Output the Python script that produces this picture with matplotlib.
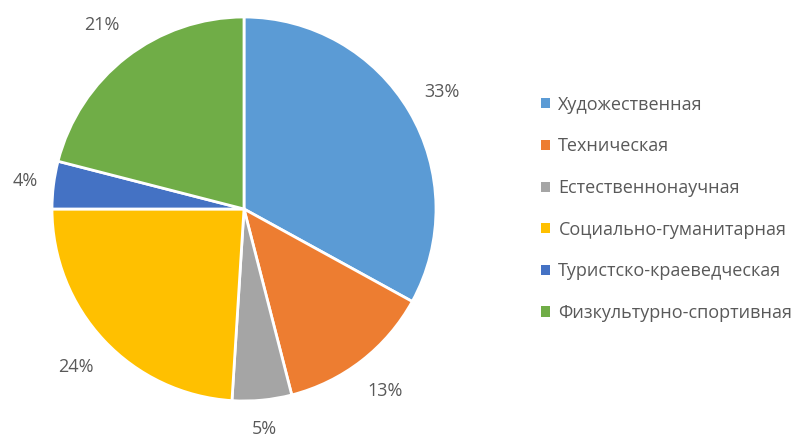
import matplotlib.pyplot as plt
from matplotlib.patches import Patch
import numpy as np

labels = ['Художественная', 'Техническая', 'Естественнонаучная',
          'Социально-гуманитарная', 'Туристско-краеведческая', 'Физкультурно-спортивная']
shares = [33, 13, 5, 24, 4, 21]
colors = ['#5B9BD5', '#ED7D31', '#A5A5A5', '#FFC000', '#4472C4', '#70AD47']

plt.rcParams['font.family'] = ['Open Sans', 'DejaVu Sans']
text_color = '#595959'

fig = plt.figure(figsize=(8.02, 4.37), dpi=100)
# pie centre at (244, 209) px, radius ~192 px
ax = fig.add_axes([52 / 802, (437 - 401) / 437, 384 / 802, 384 / 437])

wedges, texts, autotexts = ax.pie(
    shares, colors=colors, startangle=90, counterclock=False,
    autopct=lambda p: '{:.0f}%'.format(p), pctdistance=1.2,
    wedgeprops=dict(edgecolor='white', linewidth=2),
    textprops=dict(color=text_color, fontsize=13))
ax.set_xlim(-1, 1)
ax.set_ylim(-1, 1)
ax.set_aspect('auto')
ax.axis('off')

# label distances vary a bit, like the excel "best fit"
dists = [1.20, 1.20, 1.15, 1.20, 1.15, 1.21]
for w, t, d in zip(wedges, autotexts, dists):
    ang = np.deg2rad((w.theta1 + w.theta2) / 2)
    t.set_position((d * np.cos(ang), d * np.sin(ang)))

handles = [Patch(facecolor=c, edgecolor='none') for c in colors]
fig.legend(handles, labels, loc='center left', bbox_to_anchor=(534 / 802, 0.522),
           frameon=False, fontsize=13, labelcolor=text_color,
           handlelength=0.5, handleheight=0.5, handletextpad=0.45,
           labelspacing=1.31, borderaxespad=0)

fig.savefig('out.png', dpi=100)
